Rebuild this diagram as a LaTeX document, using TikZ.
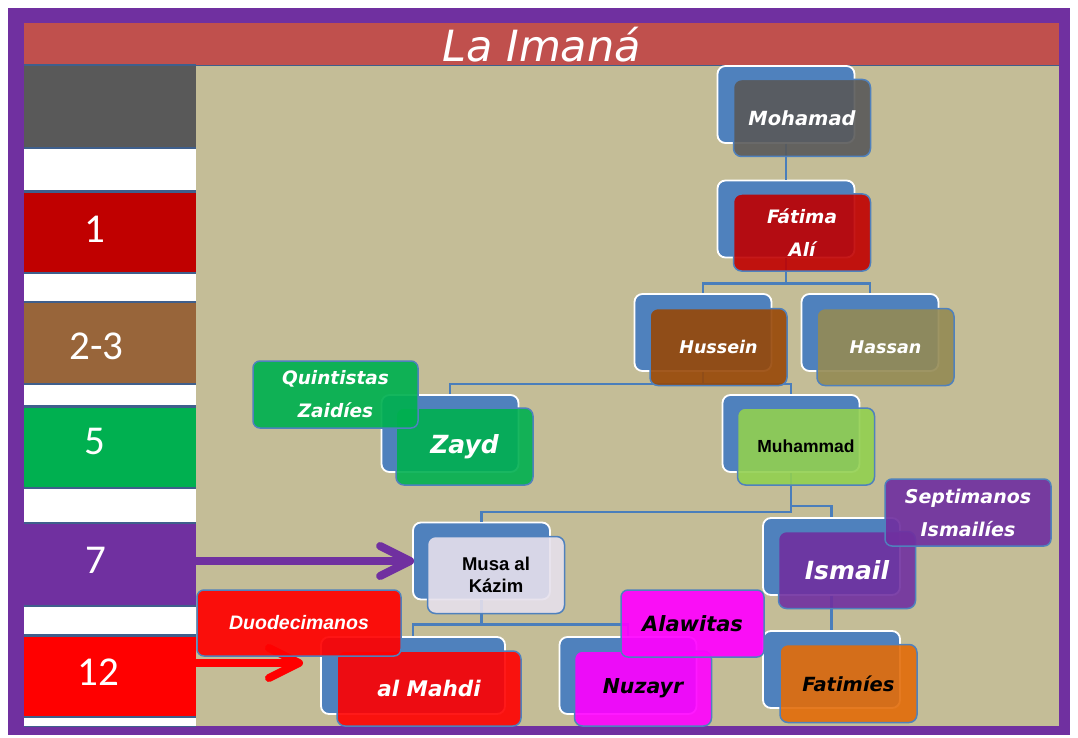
\documentclass[tikz,border=0pt]{standalone}
\usepackage{fontspec}
\usepackage{tikz}
\usetikzlibrary{arrows.meta}
\newfontfamily\dejafont{DejaVu Sans}
\newfontfamily\libfont{Liberation Sans}
\newfontfamily\calfont{Carlito}
\definecolor{smBlue}{HTML}{4F81BD}
\definecolor{lineBlue}{HTML}{4A7EBB}
\definecolor{lineDark}{HTML}{3F5F8C}
\definecolor{frPurple}{HTML}{7030A0}
\definecolor{titleRed}{HTML}{C0504D}
\definecolor{beige}{HTML}{C4BD97}
\definecolor{colGray}{HTML}{595959}
\definecolor{colRed}{HTML}{C00000}
\definecolor{colBrown}{HTML}{98653A}
\definecolor{colGreen}{HTML}{00B050}
\definecolor{colPurple}{HTML}{7030A0}
\definecolor{colBright}{HTML}{FF0000}
\definecolor{frBrown}{HTML}{984807}
\definecolor{frOlive}{HTML}{948A54}
\definecolor{frLime}{HTML}{92D050}
\definecolor{frLilac}{HTML}{E6E0EC}
\definecolor{frPink}{HTML}{FF00FF}
\definecolor{frOrange}{HTML}{E36C09}
\tikzset{
  backbox/.style={rectangle, rounded corners=8pt, fill=smBlue, draw=white, line width=1.8pt,
    minimum width=137pt, minimum height=77pt, inner sep=0pt},
  frontbox/.style={rectangle, rounded corners=8pt, draw=smBlue, line width=1.5pt,
    fill opacity=0.9, text opacity=1, minimum width=137pt, minimum height=77pt,
    inner sep=0pt, align=center},
  notebox/.style={rectangle, rounded corners=7pt, draw=smBlue, line width=1.5pt,
    fill opacity=0.92, text opacity=1, inner sep=0pt, align=center},
  colbox/.style={rectangle, inner sep=0pt, minimum width=172pt, anchor=north west},
  colline/.style={draw=lineDark, line width=1.2pt},
  colnum/.style={text=white, inner sep=0pt, font=\calfont\fontsize{41}{41}\selectfont},
  branch/.style={draw=lineBlue, line width=2.2pt},
  pointer/.style={line width=8pt, line cap=round,
    -{Straight Barb[length=30pt,width=30pt,round]}},
  vbi/.style={font=\dejafont\bfseries\itshape\fontsize{#1}{33}\selectfont},
  lb/.style={font=\libfont\bfseries\fontsize{#1}{22}\selectfont},
  lbi/.style={font=\libfont\bfseries\itshape\fontsize{#1}{22}\selectfont}
}
\begin{document}
\begin{tikzpicture}[x=1pt, y=-1pt]
\useasboundingbox (0,0) rectangle (1078,738);
\fill[white] (0,0) rectangle (1078,738);
\fill[frPurple] (8,8) rectangle (1070,735);
\node[rectangle, fill=titleRed, inner sep=0pt, minimum width=1035pt, minimum height=42pt,
  anchor=north west, text=white, font=\dejafont\itshape\fontsize{43}{43}\selectfont]
  (title) at (24,23) {La Imaná};
\fill[beige] (196,65) rectangle (1059,726);
\draw[colline, line width=0.8pt] (title.south west) -- (title.south east);

\foreach \nm/\yt/\hh/\cc in {cg/65/82/colGray, cw1/148/42/white, c1/192/80/colRed,
    cw2/273/28/white, c23/302/81/colBrown, cw3/384/21/white, c5/407/80/colGreen,
    cw4/488/34/white, c7/523/82/colPurple, cw5/606/28/white, c12/636/80/colBright,
    cw6/717/9/white}{
  \node[colbox, fill=\cc, minimum height=\hh pt] (\nm) at (24,\yt) {};
  \draw[colline] (\nm.north west) -- (\nm.north east) (\nm.south west) -- (\nm.south east);
}
\node[colnum] (n1) at (95,229) {1};
\node[colnum] (n23) at (96.5,346) {2-3};
\node[colnum] (n5) at (95,441) {5};
\node[colnum] (n7) at (95.5,560.5) {7};
\node[colnum] (n12) at (98,672) {12};

\node[backbox] (mohB) at (786,104.5) {};
\node[backbox] (fatB) at (786,219) {};
\node[backbox] (husB) at (703,332.5) {};
\node[backbox] (hasB) at (870,332.5) {};
\node[backbox] (zayB) at (450,433.5) {};
\node[backbox] (mudB) at (791,433.5) {};
\node[backbox] (musB) at (481.5,561) {};
\node[backbox] (ismB) at (831.5,556.5) {};
\node[backbox, minimum width=184pt] (mahB) at (413,675.5) {};
\node[backbox] (nuzB) at (628,675.5) {};
\node[backbox] (fimB) at (831.5,669.5) {};

\draw[branch] (mohB.south) -- (fatB.north);
\draw[branch] (fatB.south) -- ++(0,25) -| (husB.north);
\draw[branch] (fatB.south) -- ++(0,25) -| (hasB.north);
\draw[branch] (husB.south) -- ++(0,12) -| (zayB.north);
\draw[branch] (husB.south) -- ++(0,12) -| (mudB.north);
\draw[branch] (mudB.south) -- ++(0,39) -| (musB.north);
\draw[branch] (mudB.south) -- ++(0,33) -| (ismB.north);
\draw[branch] (musB.south) -- ++(0,24) -| (mahB.north);
\draw[branch] (musB.south) -- ++(0,24) -| (nuzB.north);
\draw[branch] (ismB.south) -- (fimB.north);

\coordinate (mahTip) at (303,663);
\draw[pointer, draw=colPurple] (c7.east |- musB.west) -- ([xshift=2pt]musB.west);
\draw[pointer, draw=colBright] (c12.east |- mahTip) -- (mahTip);

\node[frontbox, fill=colGray, vbi=19.5, text=white] (mohF) at ([shift={(16,13.5)}]mohB.center) {Mohamad};
\node[frontbox, fill=colRed, vbi=18.5, text=white] (fatF) at ([shift={(16,13.5)}]fatB.center) {Fátima\\Alí};
\node[frontbox, fill=frBrown, vbi=17.5, text=white] (husF) at ([shift={(15.5,14.5)}]husB.center) {Hussein};
\node[frontbox, fill=frOlive, vbi=17.5, text=white] (hasF) at ([shift={(15.5,14.5)}]hasB.center) {Hassan};
\node[frontbox, fill=colGreen, vbi=25, text=white] (zayF) at ([shift={(14.5,13)}]zayB.center) {Zayd};
\node[frontbox, fill=frLime, lb=17.5, text=black] (mudF) at ([shift={(15,13)}]mudB.center) {Muhammad};
\node[frontbox, fill=frLilac, lb=18.5, text=black] (musF) at ([shift={(14.5,14)}]musB.center) {Musa al\\Kázim};
\node[frontbox, fill=colPurple, vbi=25, text=white] (ismF) at ([shift={(15.5,13.5)}]ismB.center) {Ismail};
\node[frontbox, fill=colBright, minimum width=184pt, minimum height=75pt, vbi=21.5, text=white] (mahF) at ([shift={(16,13)}]mahB.center) {al Mahdi};
\node[frontbox, fill=frPink, minimum height=75pt, vbi=20.5, text=black] (nuzF) at ([shift={(15,13)}]nuzB.center) {Nuzayr};
\node[frontbox, fill=frOrange, minimum height=78pt, vbi=19.5, text=black] (fimF) at ([shift={(17,14)}]fimB.center) {Fatimíes};

\node[notebox, fill=colGreen, minimum width=165pt, minimum height=67pt, vbi=18.5, text=white] (quiN) at (335.5,394.5) {Quintistas\\Zaidíes};
\node[notebox, fill=colPurple, minimum width=166pt, minimum height=67pt, vbi=19, text=white] (sepN) at (968,512.5) {Septimanos\\Ismailíes};
\node[notebox, fill=colBright, minimum width=204pt, minimum height=66pt, lbi=19.5, text=white] (duoN) at (299,623) {Duodecimanos};
\node[notebox, fill=frPink, minimum width=143pt, minimum height=67pt, vbi=21, text=black] (alaN) at (692.5,623.5) {Alawitas};
\end{tikzpicture}
\end{document}
